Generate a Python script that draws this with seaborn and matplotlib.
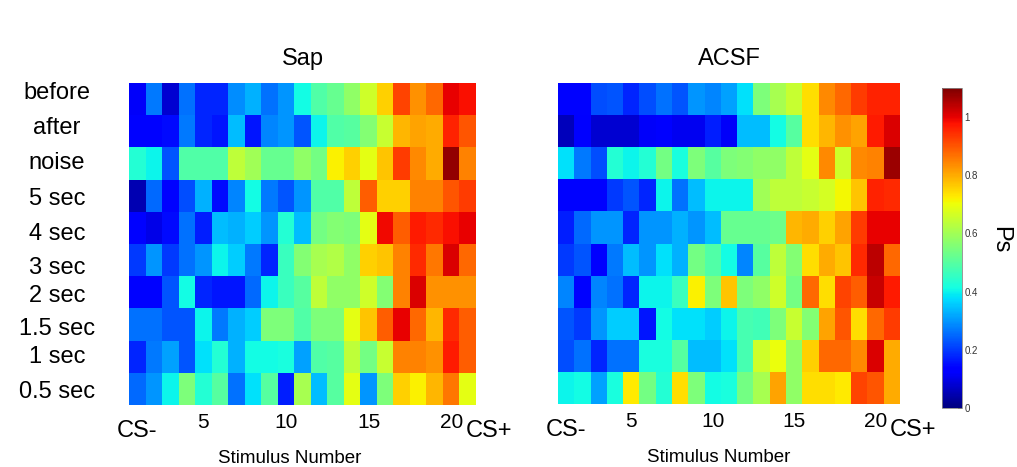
import numpy as np
import pandas as pd
import matplotlib
matplotlib.use("Agg")
import matplotlib.pyplot as plt
import seaborn as sns

conditions = ["before", "after", "noise", "5 sec", "4 sec", "3 sec",
              "2 sec", "1.5 sec", "1 sec", "0.5 sec"]
stimuli = list(range(1, 22))

sap = [
    [0.12, 0.27, 0.08, 0.26, 0.18, 0.18, 0.29, 0.33, 0.26, 0.30, 0.41, 0.49, 0.52, 0.58, 0.66, 0.76, 0.92, 0.83, 0.88, 1.00, 0.98],
    [0.14, 0.14, 0.15, 0.27, 0.18, 0.16, 0.34, 0.16, 0.28, 0.30, 0.23, 0.40, 0.49, 0.50, 0.56, 0.65, 0.79, 0.81, 0.80, 0.96, 0.90],
    [0.43, 0.40, 0.23, 0.49, 0.49, 0.49, 0.64, 0.60, 0.52, 0.52, 0.58, 0.54, 0.72, 0.76, 0.69, 0.77, 0.93, 0.84, 0.80, 1.08, 0.85],
    [0.05, 0.25, 0.14, 0.22, 0.33, 0.15, 0.28, 0.41, 0.27, 0.23, 0.30, 0.49, 0.49, 0.64, 0.89, 0.76, 0.76, 0.85, 0.85, 0.90, 0.93],
    [0.14, 0.10, 0.15, 0.26, 0.17, 0.34, 0.33, 0.36, 0.30, 0.43, 0.34, 0.54, 0.56, 0.55, 0.69, 0.99, 0.89, 0.97, 0.95, 0.98, 1.00],
    [0.20, 0.30, 0.20, 0.26, 0.30, 0.40, 0.36, 0.27, 0.18, 0.46, 0.56, 0.61, 0.62, 0.58, 0.76, 0.77, 0.85, 0.95, 0.86, 1.01, 0.88],
    [0.14, 0.14, 0.23, 0.41, 0.18, 0.16, 0.16, 0.25, 0.40, 0.46, 0.50, 0.64, 0.58, 0.58, 0.66, 0.56, 0.85, 1.01, 0.83, 0.83, 0.83],
    [0.26, 0.26, 0.23, 0.23, 0.40, 0.27, 0.33, 0.36, 0.55, 0.55, 0.49, 0.55, 0.55, 0.69, 0.77, 0.89, 1.00, 0.88, 0.79, 0.95, 0.89],
    [0.18, 0.27, 0.31, 0.23, 0.38, 0.43, 0.33, 0.41, 0.41, 0.42, 0.31, 0.49, 0.50, 0.64, 0.54, 0.65, 0.85, 0.85, 0.83, 0.97, 0.89],
    [0.25, 0.30, 0.40, 0.55, 0.43, 0.50, 0.26, 0.38, 0.50, 0.17, 0.61, 0.34, 0.50, 0.69, 0.30, 0.55, 0.76, 0.72, 0.79, 0.86, 0.69],
]

acsf = [
    [0.14, 0.14, 0.22, 0.23, 0.18, 0.22, 0.26, 0.23, 0.30, 0.28, 0.31, 0.38, 0.55, 0.61, 0.65, 0.74, 0.84, 0.88, 0.93, 0.96, 0.96],
    [0.06, 0.13, 0.08, 0.08, 0.08, 0.12, 0.13, 0.11, 0.11, 0.17, 0.12, 0.34, 0.34, 0.41, 0.50, 0.74, 0.79, 0.83, 0.81, 0.97, 1.01],
    [0.38, 0.27, 0.22, 0.43, 0.40, 0.43, 0.54, 0.42, 0.55, 0.50, 0.55, 0.56, 0.58, 0.58, 0.64, 0.69, 0.84, 0.66, 0.84, 0.85, 1.07],
    [0.14, 0.14, 0.14, 0.20, 0.23, 0.18, 0.40, 0.26, 0.34, 0.40, 0.40, 0.40, 0.60, 0.64, 0.64, 0.65, 0.67, 0.71, 0.77, 0.96, 0.95],
    [0.17, 0.25, 0.30, 0.30, 0.18, 0.30, 0.30, 0.33, 0.30, 0.34, 0.52, 0.52, 0.52, 0.53, 0.79, 0.80, 0.76, 0.81, 0.93, 1.00, 1.00],
    [0.20, 0.23, 0.13, 0.27, 0.34, 0.30, 0.38, 0.33, 0.54, 0.49, 0.41, 0.28, 0.50, 0.64, 0.56, 0.74, 0.80, 0.77, 0.95, 1.04, 0.88],
    [0.28, 0.14, 0.28, 0.26, 0.18, 0.40, 0.40, 0.46, 0.72, 0.55, 0.77, 0.55, 0.58, 0.66, 0.54, 0.88, 0.74, 0.92, 0.89, 1.03, 0.97],
    [0.23, 0.20, 0.30, 0.36, 0.36, 0.16, 0.41, 0.38, 0.38, 0.36, 0.40, 0.48, 0.47, 0.55, 0.65, 0.56, 0.81, 0.90, 0.74, 0.88, 0.93],
    [0.22, 0.26, 0.18, 0.26, 0.26, 0.42, 0.42, 0.50, 0.34, 0.34, 0.38, 0.48, 0.66, 0.70, 0.58, 0.76, 0.88, 0.88, 0.84, 1.01, 0.80],
    [0.40, 0.41, 0.31, 0.42, 0.73, 0.54, 0.43, 0.74, 0.55, 0.41, 0.42, 0.54, 0.61, 0.81, 0.58, 0.74, 0.74, 0.73, 0.92, 0.90, 0.80],
]

xtick_numbers = [5, 10, 15, 20]
cbar_ticks = [0, 0.2, 0.4, 0.6, 0.8, 1]
# row-label positions (in row units from the top), as placed in the original figure
row_label_pos = [0.31, 1.4, 2.48, 3.6, 4.69, 5.74, 6.62, 7.64, 8.5, 9.6]

sns.set_theme(style="white")
plt.rcParams["font.family"] = ["Liberation Sans", "DejaVu Sans"]

W, H = 1017, 467
fig = plt.figure(figsize=(W / 100, H / 100), dpi=100)
ax1 = fig.add_axes([129 / W, 1 - 405 / H, (476 - 129) / W, (405 - 83) / H])
ax2 = fig.add_axes([558 / W, 1 - 404 / H, (900 - 558) / W, (404 - 83) / H])
cax = fig.add_axes([942 / W, 1 - 408 / H, 20 / W, 320 / H])

df_sap = pd.DataFrame(sap, index=conditions, columns=stimuli)
df_acsf = pd.DataFrame(acsf, index=conditions, columns=stimuli)

sns.heatmap(df_sap, ax=ax1, cmap="jet", vmin=0, vmax=1.1, cbar=False,
            xticklabels=False, yticklabels=True)
sns.heatmap(df_acsf, ax=ax2, cmap="jet", vmin=0, vmax=1.1, cbar=True,
            cbar_ax=cax, xticklabels=False, yticklabels=False)

for ax, title, xlab_x in [(ax1, "Sap", 0.464), (ax2, "ACSF", 0.47)]:
    ax.set_title(title, fontsize=17, pad=13, color="black")
    ax.set_xticks([stimuli.index(n) + 0.5 for n in xtick_numbers])
    ax.set_xticklabels([str(n) for n in xtick_numbers], fontsize=15, color="black")
    ax.tick_params(axis="x", length=0, pad=6)
    ax.text(0.5, 10.8, "CS-", fontsize=17, ha="center", va="center", color="black")
    ax.text(20.4, 10.8, "CS+", fontsize=17, ha="left", va="center", color="black")
    ax.set_xlabel("Stimulus Number", fontsize=13.5, color="black")
    ax.xaxis.set_label_coords(xlab_x, -0.14)
    ax.set_ylabel("")

ax1.set_yticks(row_label_pos)
ax1.set_yticklabels(conditions, rotation=0, ha="center", fontsize=17, color="black")
ax1.tick_params(axis="y", length=0, pad=52)

cbar = ax2.collections[0].colorbar
cbar.set_ticks(cbar_ticks)
cbar.set_ticklabels(["0", "0.2", "0.4", "0.6", "0.8", "1"])
cbar.ax.tick_params(labelsize=7, length=3, direction="in", colors="#333333", pad=2)
cbar.outline.set_visible(True)
cbar.outline.set_edgecolor("#888888")
cbar.outline.set_linewidth(0.6)

fig.text(1000 / W, 1 - 240 / H, "Ps", rotation=270, fontsize=17,
         ha="center", va="center", color="black")

fig.savefig("out.png", dpi=100, facecolor="white")
